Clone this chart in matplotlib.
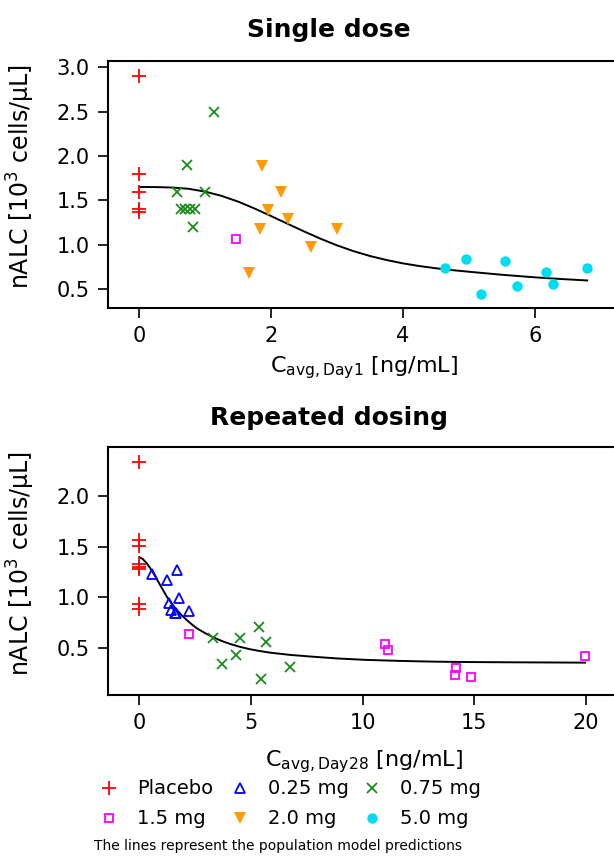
import numpy as np
import matplotlib
matplotlib.use("Agg")
import matplotlib.pyplot as plt
from matplotlib.lines import Line2D

plt.rcParams['font.family'] = ['DejaVu Sans']
plt.rcParams['mathtext.fontset'] = 'dejavusans'

# ---- single dose (Day 1) ----
sd_placebo_x = [0, 0, 0, 0, 0]
sd_placebo_y = [2.90, 1.80, 1.60, 1.40, 1.37]
sd_075_x = [1.14, 0.73, 0.58, 1.00, 0.64, 0.70, 0.77, 0.85, 0.82]
sd_075_y = [2.50, 1.90, 1.60, 1.60, 1.40, 1.40, 1.40, 1.40, 1.20]
sd_15_x = [1.47]
sd_15_y = [1.07]
sd_20_x = [1.86, 2.15, 1.96, 2.25, 1.84, 3.00, 2.61, 1.67]
sd_20_y = [1.89, 1.59, 1.39, 1.29, 1.18, 1.18, 0.98, 0.68]
sd_50_x = [4.63, 4.96, 5.18, 5.54, 5.73, 6.17, 6.27, 6.79]
sd_50_y = [0.74, 0.84, 0.45, 0.82, 0.54, 0.69, 0.56, 0.74]
sd_curve_x = [0, 0.25, 0.5, 0.75, 1.0, 1.25, 1.5, 1.75, 2.0, 2.25, 2.5, 2.75, 3.0,
              3.25, 3.5, 3.75, 4.0, 4.25, 4.5, 4.75, 5.0, 5.5, 6.0, 6.4, 6.79]
sd_curve_y = [1.652, 1.651, 1.646, 1.632, 1.600, 1.552, 1.488, 1.410, 1.325, 1.238,
              1.152, 1.070, 0.995, 0.930, 0.875, 0.830, 0.792, 0.762, 0.737, 0.716,
              0.698, 0.664, 0.635, 0.616, 0.600]

# ---- repeated dosing (Day 28) ----
rd_placebo_x = [0, 0, 0, 0, 0, 0, 0, 0]
rd_placebo_y = [2.34, 1.57, 1.51, 1.33, 1.30, 1.28, 0.93, 0.88]
rd_025_x = [0.57, 1.24, 1.70, 1.78, 1.34, 1.40, 1.58, 1.66, 2.24]
rd_025_y = [1.23, 1.17, 1.27, 0.99, 0.94, 0.87, 0.84, 0.84, 0.86]
rd_075_x = [3.28, 3.69, 4.52, 4.33, 5.34, 5.67, 5.46, 6.75]
rd_075_y = [0.60, 0.34, 0.60, 0.43, 0.70, 0.56, 0.19, 0.31]
rd_15_x = [2.22, 11.00, 11.15, 14.19, 14.15, 14.85, 19.96]
rd_15_y = [0.64, 0.54, 0.48, 0.30, 0.23, 0.21, 0.42]
rd_curve_x = [0, 0.15, 0.33, 0.48, 0.63, 0.78, 0.93, 1.08, 1.23, 1.45, 1.67, 1.9,
              2.12, 2.35, 2.57, 2.94, 3.31, 3.68, 4.06, 4.5, 4.96, 5.4, 5.86, 6.75,
              7.64, 8.9, 10.18, 11.7, 13.17, 14.7, 16.15, 18.0, 19.96]
rd_curve_y = [1.398, 1.380, 1.338, 1.292, 1.239, 1.182, 1.123, 1.065, 1.007, 0.937,
              0.875, 0.822, 0.775, 0.731, 0.693, 0.645, 0.603, 0.567, 0.537, 0.508,
              0.484, 0.466, 0.450, 0.428, 0.412, 0.392, 0.378, 0.368, 0.361, 0.357,
              0.355, 0.353, 0.351]

legend_labels = ['Placebo', '0.25 mg', '0.75 mg', '1.5 mg', '2.0 mg', '5.0 mg']

RED = '#ff0000'
BLUE = '#0000ff'
GREEN = '#1a8a1a'
MAGENTA = '#ff00ff'
ORANGE = '#ff9a00'
CYAN = '#00dcf0'

styles = {
    'Placebo': dict(marker='+', color=RED, ms=10, mew=1.3, mfc='none'),
    '0.25 mg': dict(marker='^', color=BLUE, ms=7.5, mew=1.3, mfc='none'),
    '0.75 mg': dict(marker='x', color=GREEN, ms=7, mew=1.3, mfc='none'),
    '1.5 mg': dict(marker='s', color=MAGENTA, ms=6, mew=1.3, mfc='none'),
    '2.0 mg': dict(marker='v', color=ORANGE, ms=9, mew=0, mfc=ORANGE),
    '5.0 mg': dict(marker='o', color=CYAN, ms=7.5, mew=0, mfc=CYAN),
}


def pts(ax, x, y, key):
    ax.plot(x, y, ls='none', **styles[key])


def style_axes(ax):
    for s in ['left', 'bottom', 'top', 'right']:
        ax.spines[s].set_linewidth(1.5)
    ax.tick_params(direction='out', length=7, width=1.2, labelsize=15, pad=6)


ylab = r'nALC [10$^{3}$ cells/μL]'

fig = plt.figure(figsize=(6.14, 8.56), dpi=100)

ax1 = fig.add_axes([108 / 614, 1 - 308 / 856, 512 / 614, 247 / 856])
ax1.plot(sd_curve_x, sd_curve_y, color='black', lw=1.4)
pts(ax1, sd_placebo_x, sd_placebo_y, 'Placebo')
pts(ax1, sd_075_x, sd_075_y, '0.75 mg')
pts(ax1, sd_15_x, sd_15_y, '1.5 mg')
pts(ax1, sd_20_x, sd_20_y, '2.0 mg')
pts(ax1, sd_50_x, sd_50_y, '5.0 mg')
ax1.set_xlim(-0.47, -0.47 + 512 / 66)
ax1.set_ylim(0.29, 3.07)
ax1.set_xticks([0, 2, 4, 6])
ax1.set_yticks([0.5, 1.0, 1.5, 2.0, 2.5, 3.0])
ax1.set_yticklabels(['0.5', '1.0', '1.5', '2.0', '2.5', '3.0'])
style_axes(ax1)
ax1.set_xlabel(r'C$_{\mathrm{avg,Day1}}$ [ng/mL]', fontsize=16, labelpad=6)
ax1.set_ylabel(ylab, fontsize=17)
ax1.yaxis.set_label_coords(-0.138, 0.53)

ax2 = fig.add_axes([108 / 614, 1 - 695 / 856, 512 / 614, 248 / 856])
ax2.plot(rd_curve_x, rd_curve_y, color='black', lw=1.4)
pts(ax2, rd_placebo_x, rd_placebo_y, 'Placebo')
pts(ax2, rd_025_x, rd_025_y, '0.25 mg')
pts(ax2, rd_075_x, rd_075_y, '0.75 mg')
pts(ax2, rd_15_x, rd_15_y, '1.5 mg')
ax2.set_xlim(-1.4, -1.4 + 512 / 22.33)
ax2.set_ylim(0.03, 2.49)
ax2.set_xticks([0, 5, 10, 15, 20])
ax2.set_yticks([0.5, 1.0, 1.5, 2.0])
ax2.set_yticklabels(['0.5', '1.0', '1.5', '2.0'])
style_axes(ax2)
ax2.set_xlabel(r'C$_{\mathrm{avg,Day28}}$ [ng/mL]', fontsize=16, labelpad=11)
ax2.set_ylabel(ylab, fontsize=17)
ax2.yaxis.set_label_coords(-0.138, 0.53)

fig.text(329 / 614, 1 - 30 / 856, 'Single dose', ha='center', va='center',
         fontsize=18, fontweight='bold')
fig.text(329 / 614, 1 - 418 / 856, 'Repeated dosing', ha='center', va='center',
         fontsize=18, fontweight='bold')

# legend laid out by hand, two rows of three
mark_x = [109, 240, 372]
text_x = [137, 268, 400]
row_y = [788, 818]
for i, lab in enumerate(legend_labels):
    r, c = divmod(i, 3)
    fy = 1 - row_y[r] / 856
    fig.add_artist(Line2D([mark_x[c] / 614], [fy], transform=fig.transFigure,
                          ls='none', **styles[lab]))
    fig.text(text_x[c] / 614, fy, lab, ha='left', va='center', fontsize=14)

fig.text(278 / 614, 1 - 846 / 856, 'The lines represent the population model predictions',
         ha='center', va='center', fontsize=10)

fig.savefig('out.png', dpi=100)
